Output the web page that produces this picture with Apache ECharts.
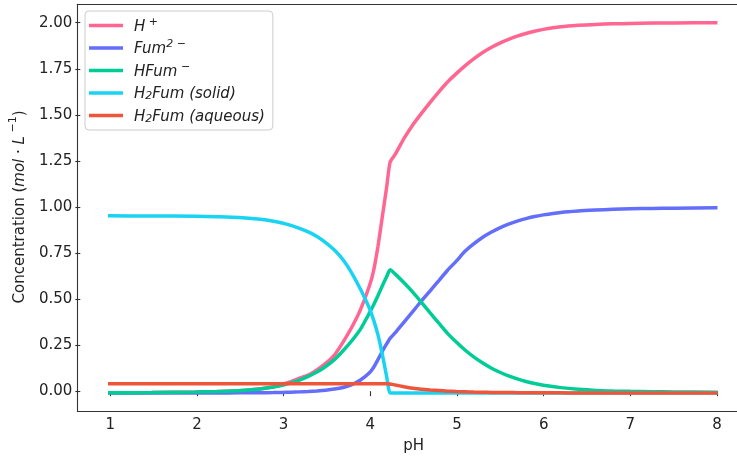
<!DOCTYPE html>
<html>
<head>
<meta charset="utf-8">
<script src="https://cdn.jsdelivr.net/npm/echarts@6/dist/echarts.min.js"></script>
<style>
  html, body { margin: 0; padding: 0; background: #fff; }
  #chart { width: 737px; height: 459px; }
</style>
</head>
<body>
<div id="chart"></div>
<script>
// pH grid the curves were read on
const ph = [1, 1.5, 2, 2.25, 2.5, 2.75, 2.9, 3.0, 3.1, 3.2,
  3.3, 3.4, 3.5, 3.6, 3.7, 3.8, 3.9, 4.0, 4.05, 4.1,
  4.15, 4.2, 4.24, 4.3, 4.4, 4.5, 4.6, 4.7, 4.8, 4.9,
  5.0, 5.1, 5.2, 5.3, 5.4, 5.5, 5.6, 5.7, 5.8, 5.9,
  6.0, 6.2, 6.4, 6.6, 6.8, 7.0, 7.25, 7.5, 8.0];

const hPlus = [0.001, 0.002, 0.005, 0.008, 0.012, 0.023, 0.034, 0.046, 0.061, 0.08,
  0.097, 0.125, 0.16, 0.205, 0.275, 0.355, 0.45, 0.575, 0.66, 0.79,
  0.95, 1.11, 1.247, 1.29, 1.375, 1.448, 1.51, 1.57, 1.627, 1.68,
  1.725, 1.767, 1.805, 1.838, 1.866, 1.89, 1.91, 1.928, 1.942, 1.954,
  1.964, 1.978, 1.986, 1.991, 1.994, 1.996, 1.998, 1.999, 2.0];

const fum = [0, 0, 0, 0, 0.001, 0.001, 0.002, 0.003, 0.004, 0.006,
  0.008, 0.011, 0.015, 0.021, 0.03, 0.045, 0.07, 0.108, 0.138, 0.18,
  0.225, 0.265, 0.295, 0.326, 0.383, 0.44, 0.497, 0.552, 0.607, 0.663,
  0.712, 0.765, 0.805, 0.84, 0.868, 0.892, 0.912, 0.928, 0.942, 0.953,
  0.962, 0.975, 0.983, 0.988, 0.992, 0.995, 0.997, 0.998, 1.0];

const hFum = [0.001, 0.002, 0.005, 0.008, 0.012, 0.022, 0.032, 0.042, 0.055, 0.07,
  0.09, 0.113, 0.143, 0.18, 0.228, 0.282, 0.345, 0.43, 0.475, 0.525,
  0.578, 0.628, 0.665, 0.642, 0.595, 0.545, 0.49, 0.433, 0.377, 0.322,
  0.275, 0.232, 0.195, 0.163, 0.135, 0.112, 0.092, 0.076, 0.062, 0.051,
  0.042, 0.029, 0.02, 0.014, 0.011, 0.009, 0.007, 0.006, 0.004];

const solid = [0.957, 0.956, 0.955, 0.952, 0.948, 0.938, 0.928, 0.918, 0.905, 0.889,
  0.87, 0.845, 0.812, 0.772, 0.72, 0.648, 0.56, 0.46, 0.395, 0.315,
  0.21, 0.09, 0, 0, 0, 0, 0, 0, 0, 0,
  0, 0, 0, 0, 0, 0, 0, 0, 0, 0,
  0, 0, 0, 0, 0, 0, 0, 0, 0];

const aqueous = [0.05, 0.05, 0.05, 0.05, 0.05, 0.05, 0.05, 0.05, 0.05, 0.05,
  0.05, 0.05, 0.05, 0.05, 0.05, 0.05, 0.05, 0.05, 0.05, 0.05,
  0.05, 0.05, 0.049, 0.043, 0.034, 0.026, 0.02, 0.016, 0.013, 0.01,
  0.008, 0.0065, 0.005, 0.004, 0.0033, 0.0027, 0.0022, 0.0018, 0.0015, 0.0012,
  0.001, 0.0007, 0.0005, 0.0003, 0.0002, 0.0001, 0.0001, 0, 0];

const names = ['H+', 'Fum2-', 'HFum-', 'H2Fum (solid)', 'H2Fum (aqueous)'];
const colors = ['#FF6692', '#636EFA', '#00CC96', '#19D3F3', '#EF553B'];
const seriesValues = [hPlus, fum, hFum, solid, aqueous];

const xTicks = [1, 8];
const yTicks = [0, 2];

const legendText = {
  'H+': '{i|H}{sup| +}',
  'Fum2-': '{i|Fum}{sup|2 −}',
  'HFum-': '{i|HFum}{sup| −}',
  'H2Fum (solid)': '{i|H}{sub|2}{i|Fum (solid)}',
  'H2Fum (aqueous)': '{i|H}{sub|2}{i|Fum (aqueous)}'
};

const font = 'DejaVu Sans';
const ink = '#222';
const spine = { show: true, onZero: false, lineStyle: { color: '#333', width: 1.1 } };
const chart = echarts.init(document.getElementById('chart'));

const option = {
  animation: false,
  backgroundColor: '#fff',
  textStyle: { fontFamily: font },
  grid: [
    // frame (matplotlib axes with 5% margins, right spine falls off the picture)
    { left: 77.5, right: 0, top: 4.2, bottom: 47.5 },
    // tick positions
    { left: 107.5, right: 20, top: 22.7, bottom: 66.3 }
  ],
  xAxis: [
    { gridIndex: 0, type: 'value', min: 0.65, max: 8.224, axisLine: spine, axisTick: { show: false },
      axisLabel: { show: false }, splitLine: { show: false } },
    { gridIndex: 1, type: 'value', min: xTicks[0], max: xTicks[1], interval: 1, offset: 18.8,
      axisLine: { show: false },
      axisTick: { show: true, length: 5, lineStyle: { color: '#333', width: 1.1 } },
      axisLabel: { color: ink, fontSize: 15, margin: 8, fontFamily: font },
      splitLine: { show: false },
      name: 'pH', nameLocation: 'middle', nameGap: 29,
      nameTextStyle: { color: ink, fontSize: 15, fontFamily: font } },
    { gridIndex: 0, type: 'value', position: 'top', min: 0.65, max: 8.224, axisLine: spine,
      axisTick: { show: false }, axisLabel: { show: false }, splitLine: { show: false } }
  ],
  yAxis: [
    { gridIndex: 0, type: 'value', min: -0.1, max: 2.1, axisLine: spine, axisTick: { show: false },
      axisLabel: { show: false }, splitLine: { show: false } },
    { gridIndex: 1, type: 'value', min: yTicks[0], max: yTicks[1], interval: 0.25, offset: 30,
      axisLine: { show: false },
      axisTick: { show: true, length: 5, lineStyle: { color: '#333', width: 1.1 } },
      axisLabel: { color: ink, fontSize: 15, margin: 8, fontFamily: font,
        formatter: v => v.toFixed(2) },
      splitLine: { show: false },
      name: '{n|Concentration (}{i|mol}{n| · }{i|L}{sup| −1}{n|)}',
      nameLocation: 'middle', nameGap: 48, nameRotate: 90,
      nameTextStyle: {
        color: ink, fontSize: 15, fontFamily: font,
        rich: {
          n: { fontSize: 15, fontFamily: font, color: ink, lineHeight: 20, verticalAlign: 'bottom' },
          i: { fontSize: 15, fontFamily: font, fontStyle: 'italic', color: ink, lineHeight: 20, verticalAlign: 'bottom' },
          sup: { fontSize: 11, fontFamily: font, color: ink, lineHeight: 11, verticalAlign: 'top' }
        }
      } }
  ],
  legend: {
    orient: 'vertical',
    left: 85, top: 11,
    padding: [5.5, 8, 5.5, 4],
    itemWidth: 34, itemHeight: 3.5, itemGap: 4.5,
    icon: 'rect',
    borderColor: '#ccc', borderWidth: 1, borderRadius: 4,
    backgroundColor: 'rgba(255,255,255,0.8)',
    data: names,
    formatter: n => legendText[n],
    textStyle: {
      fontSize: 15, fontFamily: font, color: ink, padding: [0, 0, 0, 6], height: 18, lineHeight: 18,
      rich: {
        i: { fontSize: 15, fontFamily: font, fontStyle: 'italic', color: ink, lineHeight: 18, verticalAlign: 'bottom' },
        sup: { fontSize: 11, fontFamily: font, fontStyle: 'italic', color: ink, lineHeight: 10, verticalAlign: 'top' },
        sub: { fontSize: 11, fontFamily: font, fontStyle: 'italic', color: ink, lineHeight: 10, verticalAlign: 'bottom' }
      }
    }
  },
  series: names.map((name, k) => ({
    name,
    type: 'line',
    xAxisIndex: 0,
    yAxisIndex: 0,
    data: ph.map((x, i) => [x, seriesValues[k][i]]),
    showSymbol: false,
    symbol: 'none',
    smooth: 0.2,
    color: colors[k],
    lineStyle: { color: colors[k], width: 3.5 },
    z: 2 + k
  }))
};

chart.setOption(option);
</script>
</body>
</html>
